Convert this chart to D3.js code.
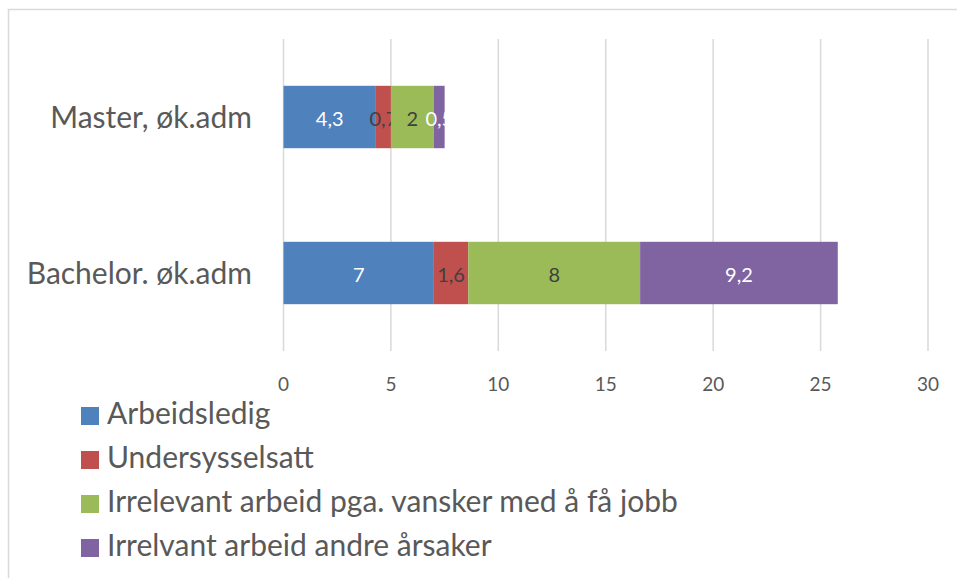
<!DOCTYPE html>
<meta charset="utf-8">
<script src="https://d3js.org/d3.v7.min.js"></script>
<style>
  body { margin: 0; background: #fff; }
  text { font-family: Lato, "Open Sans", sans-serif; }
</style>
<body>
<div id="chart"></div>
<script>
    // data
    const categories = ["Master, øk.adm", "Bachelor. øk.adm"];
    const seriesNames = ["Arbeidsledig", "Undersysselsatt",
        "Irrelevant arbeid pga. vansker med å få jobb", "Irrelvant arbeid andre årsaker"];
    const arbeidsledig = [4.3, 7];
    const undersysselsatt = [0.7, 1.6];
    const irrelevantVansker = [2, 8];
    const irrelevantAndre = [0.5, 9.2];
    const xTicks = [0, 5, 10, 15, 20, 25, 30];

    const colors = ["#4F81BD", "#C0504D", "#9BBB59", "#8064A2"];
    const labelColors = ["#ffffff", "#404040", "#404040", "#ffffff"];

    const width = 957, height = 578;
    const margin = {top: 39, right: 29, bottom: 227, left: 283.5};

    const svg = d3.select("#chart")
        .append("svg")
        .attr("width", width)
        .attr("height", height);

    // outer border
    svg.append("rect")
        .attr("x", 8.5).attr("y", 9.5)
        .attr("width", 960).attr("height", 580)
        .attr("fill", "none")
        .attr("stroke", "#d9d9d9")
        .attr("stroke-width", 1.5);

    const x = d3.scaleLinear()
        .domain([0, 30])
        .range([margin.left, width - margin.right]);

    const y = d3.scaleBand()
        .domain(categories)
        .range([margin.top, height - margin.bottom])
        .paddingInner(0.6)
        .paddingOuter(0.3);

    // gridlines
    svg.append("g")
        .selectAll("line")
        .data(xTicks)
        .join("line")
        .attr("x1", d => x(d)).attr("x2", d => x(d))
        .attr("y1", margin.top).attr("y2", height - margin.bottom)
        .attr("stroke", "#d9d9d9")
        .attr("stroke-width", 1.5);

    // tick labels
    svg.append("g")
        .selectAll("text")
        .data(xTicks)
        .join("text")
        .attr("x", d => x(d))
        .attr("y", 391)
        .attr("text-anchor", "middle")
        .attr("fill", "#595959")
        .style("font-size", "19px")
        .text(d => d);

    // stack
    const values = [arbeidsledig, undersysselsatt, irrelevantVansker, irrelevantAndre];
    const rows = categories.map((c, i) => {
        const r = {cat: c};
        seriesNames.forEach((s, j) => r[s] = values[j][i]);
        return r;
    });
    const stacked = d3.stack().keys(seriesNames)(rows);

    const groups = svg.append("g")
        .selectAll("g")
        .data(stacked)
        .join("g");

    groups.selectAll("rect")
        .data((d, j) => d.map(p => ({p, j})))
        .join("rect")
        .attr("x", d => x(d.p[0]))
        .attr("y", d => y(d.p.data.cat))
        .attr("width", d => x(d.p[1]) - x(d.p[0]))
        .attr("height", y.bandwidth())
        .attr("fill", d => colors[d.j]);

    groups.selectAll("text")
        .data((d, j) => d.map(p => ({p, j})))
        .join("text")
        .attr("x", d => (x(d.p[0]) + x(d.p[1])) / 2)
        .attr("y", d => y(d.p.data.cat) + y.bandwidth() / 2 + 8.5)
        .attr("text-anchor", "middle")
        .attr("fill", d => labelColors[d.j])
        .style("font-size", "20px")
        .text(d => String(values[d.j][categories.indexOf(d.p.data.cat)]).replace(".", ","));

    // category labels
    svg.append("g")
        .selectAll("text")
        .data(categories)
        .join("text")
        .attr("x", 252)
        .attr("y", d => y(d) + y.bandwidth() / 2 + 10.5)
        .attr("text-anchor", "end")
        .attr("fill", "#595959")
        .style("font-size", "30px")
        .text(d => d);

    // legend
    const legend = svg.append("g")
        .selectAll("g")
        .data(seriesNames)
        .join("g")
        .attr("transform", (d, i) => `translate(81, ${416 + i * 44})`);

    legend.append("rect")
        .attr("x", 0).attr("y", -9)
        .attr("width", 18).attr("height", 18)
        .attr("fill", (d, i) => colors[i]);

    legend.append("text")
        .attr("x", 26)
        .attr("y", 8)
        .attr("fill", "#595959")
        .style("font-size", "30px")
        .text(d => d);
</script>
</body>
